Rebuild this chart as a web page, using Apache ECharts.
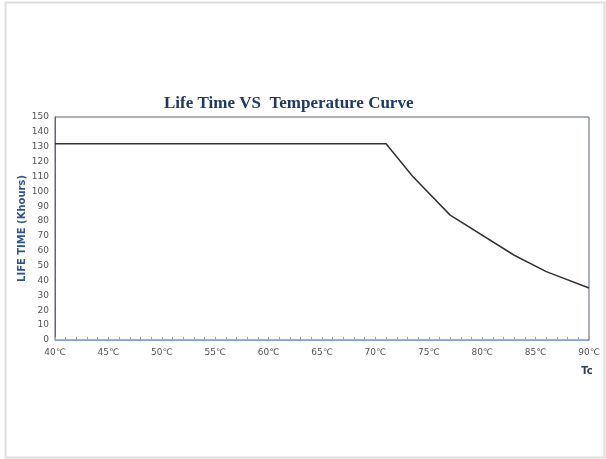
<!DOCTYPE html>
<html>
<head>
<meta charset="utf-8">
<script src="https://cdn.jsdelivr.net/npm/echarts@6/dist/echarts.min.js"></script>
<style>html,body{margin:0;padding:0;background:#fff}#c{width:606px;height:459px}</style>
</head>
<body>
<div id="c"></div>
<script>
var temps = [40, 51, 71, 73.5, 77, 83, 86, 90];
var life = [132, 132, 132, 110, 84, 57, 46, 35];
var titleText = 'Life Time VS  Temperature Curve';
var yName = 'LIFE TIME (Khours)';
var xName = 'Tc';

var chart = echarts.init(document.getElementById('c'), null, {renderer: 'canvas'});
chart.setOption({
  animation: false,
  backgroundColor: '#fff',
  title: {
    text: titleText, left: 159, top: 90,
    textStyle: {fontFamily: 'Liberation Serif', fontWeight: 'bold', fontSize: 17, color: '#1f3864'}
  },
  graphic: [{
    type: 'rect', shape: {x: 5.5, y: 2.5, width: 599, height: 455},
    style: {fill: 'none', stroke: '#dedede', lineWidth: 2}, silent: true
  }],
  grid: {left: 55, right: 17, top: 117, bottom: 119, show: true, borderColor: '#5b6670', borderWidth: 1},
  xAxis: {
    type: 'value', min: 40, max: 90, interval: 5,
    name: xName, nameLocation: 'end', nameGap: -2,
    nameTextStyle: {fontFamily: 'DejaVu Sans', fontWeight: 'bold', fontSize: 10, color: '#2f3f5f', align: 'center', verticalAlign: 'top', padding: [26, 0, 0, 0]},
    axisLine: {lineStyle: {color: '#8aa4c8', width: 1}},
    axisTick: {show: true, inside: true, length: 3, lineStyle: {color: '#8aa4c8'}},
    minorTick: {show: true, splitNumber: 5, length: 3, lineStyle: {color: '#8aa4c8'}},
    splitLine: {show: false},
    axisLabel: {formatter: function(v){return v + '℃';}, fontSize: 9, color: '#555', margin: 8, fontFamily: 'DejaVu Sans'}
  },
  yAxis: {
    type: 'value', min: 0, max: 150, interval: 10,
    name: yName, nameLocation: 'middle', nameRotate: 90, nameGap: 28, nameMoveOverlap: false,
    nameTextStyle: {fontFamily: 'DejaVu Sans', fontWeight: 'bold', fontSize: 10, color: '#2f5496'},
    axisLine: {show: true, lineStyle: {color: '#5b6670'}},
    axisTick: {show: false},
    splitLine: {show: false},
    axisLabel: {fontSize: 9, color: '#555', margin: 6, fontFamily: 'DejaVu Sans'}
  },
  series: [{
    type: 'line',
    data: temps.map(function(t, i){return [t, life[i]];}),
    showSymbol: false,
    lineStyle: {color: '#333', width: 1.5}
  }]
});
</script>
</body>
</html>
